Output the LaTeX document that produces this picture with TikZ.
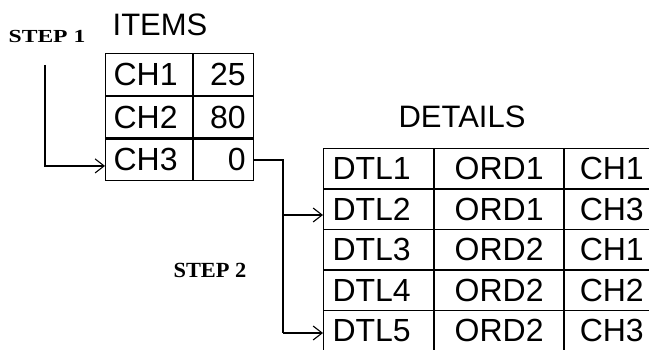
\documentclass[tikz,border=0pt]{standalone}
\usepackage{fontspec}
\setmainfont{Liberation Sans}
\newfontfamily\stepfont{Liberation Serif}
\usetikzlibrary{arrows.meta}
\begin{document}
\begin{tikzpicture}[x=1pt,y=-1pt,
  cell/.style={draw,line width=1.1pt,rectangle,anchor=north west,inner ysep=0pt,
    font=\fontsize{32}{34}\selectfont},
  ia/.style={cell,inner xsep=8pt,text width=71pt,align=left,minimum height=41.67pt},
  ib/.style={cell,inner xsep=8pt,text width=44pt,align=right,minimum height=41.67pt},
  da/.style={cell,inner xsep=9pt,text width=92pt,align=left,minimum height=40.5pt},
  db/.style={cell,inner xsep=9pt,text width=111pt,align=center,minimum height=40.5pt},
  dc/.style={cell,inner xsep=15pt,text width=100pt,align=left,minimum height=40.5pt},
  title/.style={font=\fontsize{31}{33}\selectfont},
  steplbl/.style={font=\stepfont\bfseries\fontsize{20}{20}\selectfont},
  conn/.style={line width=1.2pt,-{Straight Barb[length=9pt,width=14pt,line width=1.1pt]}},
  wire/.style={line width=1.2pt}]
\useasboundingbox (0,0) rectangle (649,350);
\begin{scope}
\clip (0,0) rectangle (649,350);
% ITEMS table
\node[ia] (i11) at (105,53) {CH1};
\node[ib] (i12) at (i11.north east) {25};
\node[ia] (i21) at (i11.south west) {CH2};
\node[ib] (i22) at (i21.north east) {80};
\node[ia] (i31) at (i21.south west) {CH3};
\node[ib] (i32) at (i31.north east) {0};
% DETAILS table
\foreach \a/\b/\c [count=\r] in {DTL1/ORD1/CH1,DTL2/ORD1/CH3,DTL3/ORD2/CH1,DTL4/ORD2/CH2,DTL5/ORD2/CH3}{
  \node[da] (d\r1) at (323,{148+(\r-1)*40.5}) {\a};
  \node[db] (d\r2) at (d\r1.north east) {\b};
  \node[dc] (d\r3) at (d\r2.north east) {\c};
}
\end{scope}
% titles
\node[title] (titems) at (160,25) {ITEMS};
\node[title] (tdet) at (462,117) {DETAILS};
\node[steplbl] (step1) at (47,37) {\scalebox{1.18}[0.92]{STEP 1}};
\node[steplbl] (step2) at (210,270) {\scalebox{1.12}[1.08]{STEP 2}};
% connectors
\coordinate (s1) at (45,65);
\draw[conn] (s1) |- ([yshift=-6pt]i31.west);
\coordinate (b1) at (283,215);
\coordinate (b2) at (283,333);
\draw[wire] (i32.east) -| (b2);
\draw[conn] (b1) -- (b1 -| d21.west);
\draw[conn] (b2) -- (b2 -| d51.west);
\end{tikzpicture}
\end{document}
